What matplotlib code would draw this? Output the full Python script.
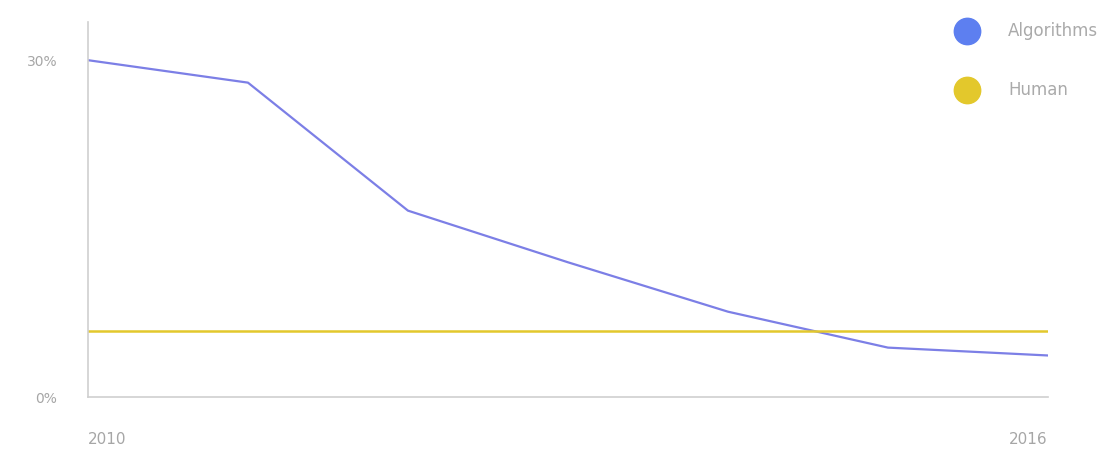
import matplotlib.pyplot as plt
from matplotlib.lines import Line2D

# data
years = [2010, 2011, 2012, 2013, 2014, 2015, 2016]
algorithms = [30.0, 28.0, 16.6, 12.0, 7.6, 4.4, 3.7]
human = [5.9, 5.9, 5.9, 5.9, 5.9, 5.9, 5.9]
series_names = ['Algorithms', 'Human']
y_ticks = [0, 30]
y_tick_labels = ['0%', '30%']
x_ticks = [2010, 2016]

blue_line = '#7c7fe6'
blue_dot = '#5d7ff0'
yellow = '#e3c82c'
grey_axis = '#cfcfcf'
grey_text = '#a6a6a6'

plt.rcParams['font.family'] = ['DejaVu Sans']

fig = plt.figure(figsize=(11.12, 4.51), dpi=100)
ax = fig.add_axes([0.0791, 0.1197, 0.8633, 0.8315])

ax.plot(years, algorithms, color=blue_line, lw=1.6, solid_joinstyle='round')
ax.plot(years, human, color=yellow, lw=1.8)

ax.set_xlim(2010, 2016)
ax.set_ylim(0, 33.4)

for side in ['top', 'right']:
    ax.spines[side].set_visible(False)
for side in ['left', 'bottom']:
    ax.spines[side].set_color(grey_axis)
    ax.spines[side].set_linewidth(1.2)

ax.set_yticks(y_ticks)
ax.set_yticklabels(y_tick_labels)
ax.set_xticks(x_ticks)
ax.set_xticklabels([str(y) for y in x_ticks])
ax.tick_params(axis='both', length=0, colors=grey_text)
ax.tick_params(axis='y', pad=22, labelsize=10)
ax.tick_params(axis='x', pad=25, labelsize=11)
xl = ax.get_xticklabels()
xl[0].set_ha('left')
xl[-1].set_ha('right')

# legend drawn by hand: big dots with labels to the right
for name, col, yf in zip(series_names, [blue_dot, yellow], [1 - 31 / 451, 1 - 90 / 451]):
    fig.add_artist(Line2D([967 / 1112], [yf], marker='o', markersize=19,
                          color=col, transform=fig.transFigure))
    fig.text(1008 / 1112, yf, name, color='#aaaaaa', fontsize=12,
             va='center', ha='left')

fig.savefig('out.png', dpi=100)
